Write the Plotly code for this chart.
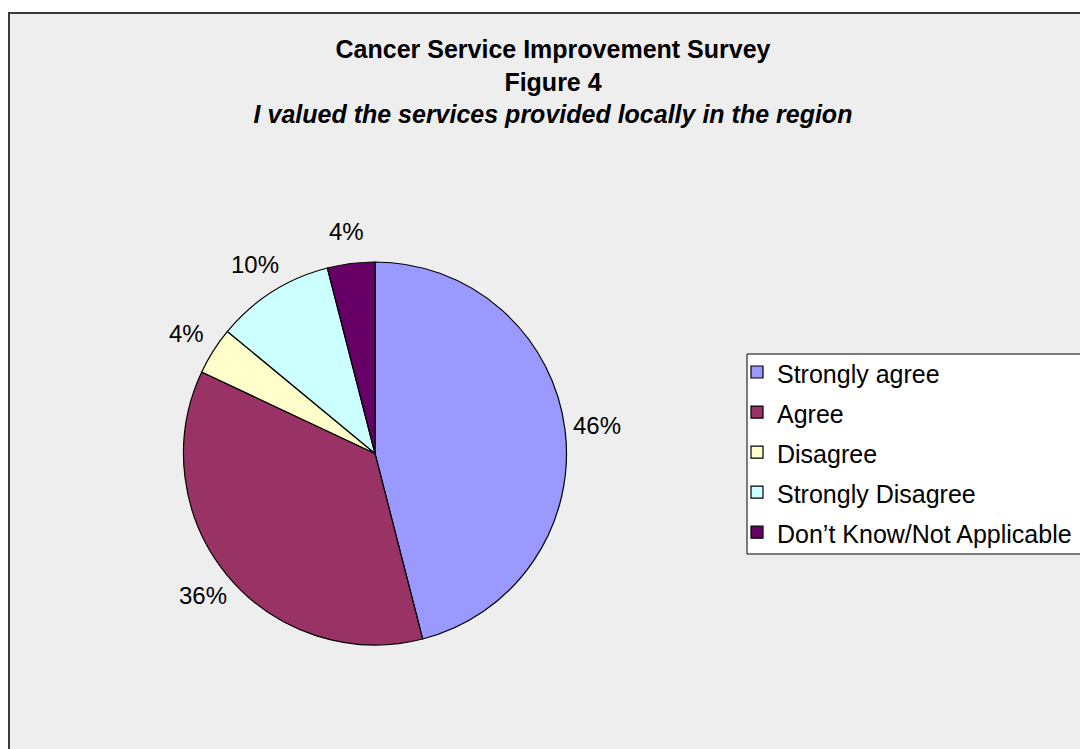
import math
import plotly.graph_objects as go

# Survey responses (percent of respondents)
categories = ["Strongly agree", "Agree", "Disagree", "Strongly Disagree",
              "Don\u2019t Know/Not Applicable"]
shares = [46, 36, 4, 10, 4]
slice_colors = ["#9999FF", "#993366", "#FFFFCC", "#CCFFFF", "#660066"]

title_lines = ["Cancer Service Improvement Survey", "Figure 4",
               "I valued the services provided locally in the region"]

W, H = 1080, 749
FONT = "Liberation Sans, Arial, sans-serif"

# pie placement in pixels
CX, CY, R = 375.0, 453.5, 191.5
LABEL_OFFSET = 32  # distance of the percent labels beyond the rim


def px_x(v):
    return v / W


def px_y(v):
    return 1 - v / H


# legend entries use a smaller text span inside a taller row
legend_labels = [f"<span style='font-size:25px'>{c}</span>" for c in categories]

fig = go.Figure(
    go.Pie(
        labels=legend_labels,
        values=shares,
        sort=False,
        direction="clockwise",
        rotation=0,
        marker=dict(colors=slice_colors, line=dict(color="#000000", width=1.2)),
        textinfo="none",
        hoverinfo="label+percent",
        domain=dict(x=[px_x(CX - R), px_x(CX + R)], y=[px_y(CY + R), px_y(CY - R)]),
    )
)

# chart frame: grey panel with a dark edge that runs off the page
fig.add_shape(
    type="rect", xref="paper", yref="paper",
    x0=px_x(9), y0=px_y(13), x1=1.05, y1=-0.05,
    fillcolor="#EEEEEE", line=dict(color="#3A3A3A", width=2), layer="below",
)
# legend panel
fig.add_shape(
    type="rect", xref="paper", yref="paper",
    x0=px_x(747), y0=px_y(354), x1=1.05, y1=px_y(554),
    fillcolor="#FFFFFF", line=dict(color="#000000", width=1), layer="below",
)

# percent labels placed radially outside the middle of each slice
total = sum(shares)
start = 0.0
for v in shares:
    frac = v / total
    mid = (start + frac / 2) * 2 * math.pi  # clockwise from 12 o'clock
    start += frac
    lx = CX + math.sin(mid) * (R + LABEL_OFFSET)
    ly = CY - math.cos(mid) * (R + LABEL_OFFSET)
    fig.add_annotation(
        x=px_x(lx), y=px_y(ly), xref="paper", yref="paper",
        text=f"{frac * 100:.0f}%", showarrow=False,
        xanchor="center", yanchor="middle",
        font=dict(family=FONT, size=24, color="#000000"),
    )

title_text = (f"<b>{title_lines[0]}</b><br><b>{title_lines[1]}</b><br>"
              f"<b><i>{title_lines[2]}</i></b>")

fig.update_layout(
    width=W, height=H,
    margin=dict(l=0, r=0, t=0, b=0),
    paper_bgcolor="#FFFFFF",
    plot_bgcolor="#FFFFFF",
    font=dict(family=FONT, color="#000000"),
    title=dict(
        text=title_text,
        x=px_x(553), xanchor="center", xref="paper",
        y=px_y(58), yanchor="top", yref="container",
        font=dict(family=FONT, size=25, color="#000000"),
    ),
    showlegend=True,
    legend=dict(
        x=px_x(737), y=px_y(347), xanchor="left", yanchor="top",
        xref="paper", yref="paper",
        bgcolor="rgba(0,0,0,0)", borderwidth=0,
        font=dict(family=FONT, size=28.5, color="#000000"),
        tracegroupgap=0,
    ),
)

fig.write_html("out.html")
